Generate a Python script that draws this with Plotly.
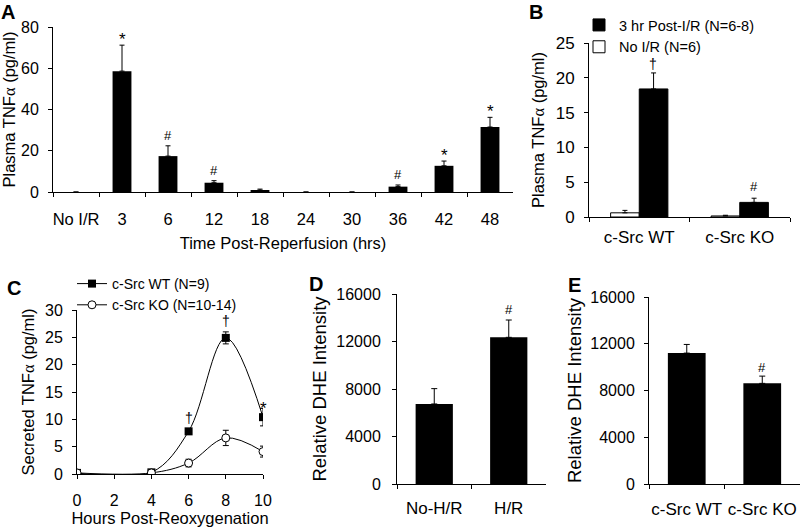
import plotly.graph_objects as go

FONT = "Liberation Sans, Arial, Helvetica, sans-serif"
ALPHA = '<span style="font-family:Liberation Serif, Times New Roman, serif">α</span>'

# ---------------- Panel A data ----------------
a_cats = ["No I/R", "3", "6", "12", "18", "24", "30", "36", "42", "48"]
a_vals = [0, 58.6, 17.4, 4.5, 0.9, 0, 0, 2.6, 12.7, 31.5]
a_err = [0, 12.6, 5.0, 1.0, 0.5, 0, 0, 0.8, 2.3, 4.7]
a_sig = ["", "*", "#", "#", "", "", "", "#", "*", "*"]

# ---------------- Panel B data ----------------
b_cats = ["c-Src WT", "c-Src KO"]
b_noir = [0.6, 0.15]
b_noir_err = [0.35, 0.1]
b_post = [18.4, 2.1]
b_post_err = [2.3, 0.6]
b_sig = ["†", "#"]

# ---------------- Panel C data ----------------
c_hours = [0, 4, 6, 8, 10]
c_wt = [0.2, 0.3, 7.8, 24.9, 10.4]
c_wt_err = [0.2, 0.2, 0.5, 1.1, 1.6]
c_ko = [0.2, 0.2, 2.0, 6.6, 4.1]
c_ko_err = [0.1, 0.2, 0.7, 1.4, 1.0]
c_sig = ["", "", "†", "†", "*"]

# ---------------- Panel D data ----------------
d_cats = ["No-H/R", "H/R"]
d_vals = [6740, 12350]
d_err = [1290, 1460]
d_sig = ["", "#"]

# ---------------- Panel E data ----------------
e_cats = ["c-Src WT", "c-Src KO"]
e_vals = [11200, 8610]
e_err = [740, 620]
e_sig = ["", "#"]

W, H = 800, 527


def dom_x(px0, px1):
    return [px0 / W, px1 / W]


def dom_y(py_bottom, py_top):
    return [1 - py_bottom / H, 1 - py_top / H]


def err_up(arr, width=2.5):
    return dict(type="data", array=arr, arrayminus=[0] * len(arr), symmetric=False,
                color="black", thickness=1, width=width, visible=True)


def tf(size):
    return dict(family=FONT, size=size, color="black")


fig = go.Figure()

# Panel A
fig.add_trace(go.Bar(x=a_cats, y=a_vals, width=0.41, marker=dict(color="black", line=dict(width=0)),
                     error_y=err_up(a_err), xaxis="x", yaxis="y", showlegend=False))

# Panel B
fig.add_trace(go.Bar(x=b_cats, y=b_noir, width=0.285, offset=-0.285, name="No I/R (N=6)",
                     marker=dict(color="white", line=dict(color="black", width=1)),
                     error_y=err_up(b_noir_err), xaxis="x2", yaxis="y2", legend="legend",
                     legendrank=2))
fig.add_trace(go.Bar(x=b_cats, y=b_post, width=0.285, offset=0, name="3 hr Post-I/R (N=6-8)",
                     marker=dict(color="black", line=dict(color="black", width=1)),
                     error_y=err_up(b_post_err), xaxis="x2", yaxis="y2", legend="legend",
                     legendrank=1))

# Panel C
fig.add_trace(go.Scatter(x=c_hours, y=c_wt, mode="lines+markers", name="c-Src WT (N=9)",
                         line=dict(color="black", width=1, shape="spline", smoothing=1),
                         marker=dict(symbol="square", size=8, color="black"),
                         error_y=dict(type="data", array=c_wt_err, color="black", thickness=1, width=3),
                         xaxis="x3", yaxis="y3", legend="legend2"))
fig.add_trace(go.Scatter(x=c_hours, y=c_ko, mode="lines+markers", name="c-Src KO (N=10-14)",
                         line=dict(color="black", width=1, shape="spline", smoothing=1),
                         marker=dict(symbol="circle", size=8, color="white",
                                     line=dict(color="black", width=1)),
                         error_y=dict(type="data", array=c_ko_err, color="black", thickness=1, width=3),
                         xaxis="x3", yaxis="y3", legend="legend2"))

# Panel D
fig.add_trace(go.Bar(x=d_cats, y=d_vals, width=0.5, marker=dict(color="black", line=dict(width=0)),
                     error_y=err_up(d_err, 3), xaxis="x4", yaxis="y4", showlegend=False))

# Panel E
fig.add_trace(go.Bar(x=e_cats, y=e_vals, width=0.5, marker=dict(color="black", line=dict(width=0)),
                     error_y=err_up(e_err, 3), xaxis="x5", yaxis="y5", showlegend=False))

base_axis = dict(showline=True, linecolor="black", linewidth=1, ticks="outside", tickcolor="black",
                 ticklen=4, tickwidth=1, showgrid=False, zeroline=False, fixedrange=True,
                 tickangle=0, tickfont=tf(16), title_font=tf(16.5), automargin=True)

layout = dict(
    width=W, height=H, margin=dict(l=0, r=0, t=0, b=0, pad=0, autoexpand=False),
    paper_bgcolor="white", plot_bgcolor="white",
    font=dict(family=FONT, color="black"),
    barmode="overlay",
    xaxis=dict(base_axis, domain=dom_x(53, 513), type="category", range=[-0.5, 9.5], tickson="boundaries",
               anchor="y", ticklabelstandoff=12, tickfont=tf(16.5),
               title=dict(text="Time Post-Reperfusion (hrs)", standoff=10)),
    yaxis=dict(base_axis, domain=dom_y(192, 27), range=[0, 80], dtick=20, anchor="x",
               ticklabelstandoff=6,
               title=dict(text="Plasma TNF" + ALPHA + " (pg/ml)", standoff=6)),
    xaxis2=dict(base_axis, domain=dom_x(589, 790), type="category", range=[-0.5, 1.5], tickson="boundaries",
                anchor="y2", ticklabelstandoff=5, tickfont=tf(17)),
    yaxis2=dict(base_axis, domain=dom_y(217, 43), range=[0, 25], dtick=5, anchor="x2",
                ticklabelstandoff=6, tickfont=tf(17),
                title=dict(text="Plasma TNF" + ALPHA + " (pg/ml)", standoff=6)),
    xaxis3=dict(base_axis, domain=dom_x(77, 263), range=[0, 10], dtick=2, anchor="y3",
                ticklabelstandoff=8,
                title=dict(text="Hours Post-Reoxygenation", standoff=3)),
    yaxis3=dict(base_axis, domain=dom_y(474, 310), range=[0, 30], dtick=5, anchor="x3",
                ticklabelstandoff=6,
                title=dict(text="Secreted TNF" + ALPHA + " (pg/ml)", standoff=6)),
    xaxis4=dict(base_axis, domain=dom_x(397, 546), type="category", range=[-0.5, 1.5], tickson="boundaries",
                anchor="y4", ticklabelstandoff=9, tickfont=tf(17)),
    yaxis4=dict(base_axis, domain=dom_y(484, 294), range=[0, 16000], dtick=4000, tickformat="d",
                anchor="x4", ticklabelstandoff=8,
                title=dict(text="Relative DHE Intensity", standoff=4, font=tf(18.5))),
    xaxis5=dict(base_axis, domain=dom_x(649, 800), type="category", range=[-0.5, 1.5], tickson="boundaries",
                anchor="y5", ticklabelstandoff=10, tickfont=tf(17)),
    yaxis5=dict(base_axis, domain=dom_y(484, 297), range=[0, 16000], dtick=4000, tickformat="d",
                anchor="x5", ticklabelstandoff=6,
                title=dict(text="Relative DHE Intensity", standoff=3, font=tf(18.5))),
    legend=dict(x=579 / W, y=1 - 9 / H, xanchor="left", yanchor="top", bgcolor="rgba(0,0,0,0)",
                font=tf(14.5), traceorder="normal", itemwidth=30),
    legend2=dict(x=72 / W, y=1 - 268 / H, xanchor="left", yanchor="top", bgcolor="rgba(0,0,0,0)",
                 font=tf(14), traceorder="normal", itemwidth=30),
)
fig.update_layout(**layout)

annotations = []

SIG_SIZE = {"*": 17, "#": 13, "†": 14}


def sig_annots(xs, vals, errs, sigs, xref, yref, shifts, xshift=0):
    for x, v, e, s in zip(xs, vals, errs, sigs):
        if not s:
            continue
        annotations.append(dict(x=x, y=v + e, xref=xref, yref=yref, text=s, showarrow=False,
                                yanchor="bottom", yshift=shifts[s], xshift=xshift,
                                font=tf(SIG_SIZE[s])))


sig_annots(list(range(len(a_cats))), a_vals, a_err, a_sig, "x", "y", {"*": -6, "#": 1})
sig_annots(list(range(len(b_cats))), b_post, b_post_err, b_sig, "x2", "y2", {"†": -1, "#": 2}, xshift=14)
sig_annots(c_hours, c_wt, c_wt_err, c_sig, "x3", "y3", {"†": 1, "*": -12})
sig_annots(list(range(len(d_cats))), d_vals, d_err, d_sig, "x4", "y4", {"#": 1})
sig_annots(list(range(len(e_cats))), e_vals, e_err, e_sig, "x5", "y5", {"#": -1})

# Panel letters
for letter, px, py in [("A", 8, 12), ("B", 536, 12), ("C", 14, 288), ("D", 316, 284), ("E", 574, 285)]:
    annotations.append(dict(x=px / W, y=1 - py / H, xref="paper", yref="paper", text="<b>" + letter + "</b>",
                            showarrow=False, xanchor="center", yanchor="middle", font=tf(20)))

fig.update_layout(annotations=annotations)

fig.write_html("out.html", config={"displayModeBar": False},
               post_script="document.body.style.margin='0';")
